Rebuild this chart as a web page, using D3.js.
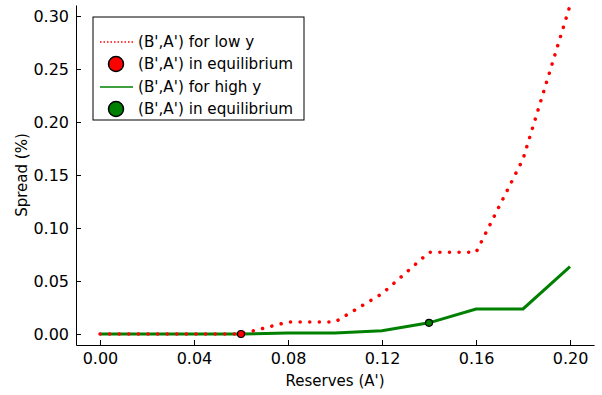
<!DOCTYPE html>
<html lang="en">
<head>
<meta charset="UTF-8">
<script src="https://cdn.jsdelivr.net/npm/d3@7"></script>
<style>
    body { margin: 0; background: #fff; }
    text { font-family: "DejaVu Sans", sans-serif; }
</style>
</head>
<body>
<svg width="602" height="395"></svg>
<script>
    var reserves = [0.00, 0.02, 0.04, 0.06, 0.08, 0.10, 0.12, 0.14, 0.16, 0.18, 0.20];
    var spreadLow = [0, 0, 0, 0, 0.0113, 0.0113, 0.038, 0.077, 0.077, 0.165, 0.31];
    var spreadHigh = [0, 0, 0, 0, 0.001, 0.001, 0.003, 0.0105, 0.0236, 0.0236, 0.0635];
    var eqLow = [0.06, 0];
    var eqHigh = [0.14, 0.0105];
    var xTicks = [0.00, 0.04, 0.08, 0.12, 0.16, 0.20];
    var yTicks = [0.00, 0.05, 0.10, 0.15, 0.20, 0.25, 0.30];
    var legendLabels = ["(B',A') for low y", "(B',A') in equilibrium", "(B',A') for high y", "(B',A') in equilibrium"];

    var svg = d3.select("svg");
    var x = d3.scaleLinear().domain([-0.0102, 0.2102]).range([76, 594]);
    var y = d3.scaleLinear().domain([-0.0104, 0.3104]).range([345, 5]);

    // axes (ticks point inward)
    svg.append("g")
        .attr("transform", "translate(0,345)")
        .call(d3.axisBottom(x).tickValues(xTicks).tickFormat(d3.format(".2f")).tickSizeInner(-5).tickSizeOuter(0).tickPadding(8))
        .call(function (g) {
            g.select(".domain").attr("stroke", "#000");
            g.selectAll("text").attr("font-size", 16).attr("fill", "#000");
        });
    svg.append("g")
        .attr("transform", "translate(76,0)")
        .call(d3.axisLeft(y).tickValues(yTicks).tickFormat(d3.format(".2f")).tickSizeInner(-5).tickSizeOuter(0).tickPadding(7))
        .call(function (g) {
            g.select(".domain").attr("stroke", "#000");
            g.selectAll("text").attr("font-size", 16).attr("fill", "#000");
        });

    svg.append("text")
        .attr("x", 335).attr("y", 386)
        .attr("text-anchor", "middle").attr("font-size", 15)
        .text("Reserves (A')");
    svg.append("text")
        .attr("transform", "translate(27,175) rotate(-90)")
        .attr("text-anchor", "middle").attr("font-size", 15)
        .text("Spread (%)");

    var line = d3.line()
        .x(function (d, i) { return x(reserves[i]); })
        .y(function (d) { return y(d); });

    svg.append("path")
        .datum(spreadHigh)
        .attr("d", line)
        .attr("fill", "none")
        .attr("stroke", "#008000")
        .attr("stroke-width", 3);

    svg.append("path")
        .datum(spreadLow)
        .attr("d", line)
        .attr("fill", "none")
        .attr("stroke", "#ff0000")
        .attr("stroke-width", 3.5)
        .attr("stroke-linecap", "round")
        .attr("stroke-dasharray", "0.1 9.5");

    svg.append("circle")
        .attr("cx", x(eqLow[0])).attr("cy", y(eqLow[1])).attr("r", 3.5)
        .attr("fill", "#ff0000").attr("stroke", "#000").attr("stroke-width", 1.2);
    svg.append("circle")
        .attr("cx", x(eqHigh[0])).attr("cy", y(eqHigh[1])).attr("r", 3.5)
        .attr("fill", "#008000").attr("stroke", "#000").attr("stroke-width", 1.2);

    // legend
    var lg = svg.append("g").attr("transform", "translate(93,17)");
    lg.append("rect")
        .attr("width", 211).attr("height", 103)
        .attr("fill", "#fff").attr("stroke", "#000").attr("stroke-width", 1);
    var rowY = [25, 47, 70, 92];
    lg.append("line").attr("x1", 7).attr("x2", 40).attr("y1", rowY[0]).attr("y2", rowY[0])
        .attr("stroke", "#ff0000").attr("stroke-width", 1.5).attr("stroke-dasharray", "1.5 2");
    lg.append("circle").attr("cx", 23).attr("cy", rowY[1]).attr("r", 7.5)
        .attr("fill", "#ff0000").attr("stroke", "#000").attr("stroke-width", 1.5);
    lg.append("line").attr("x1", 7).attr("x2", 40).attr("y1", rowY[2]).attr("y2", rowY[2])
        .attr("stroke", "#008000").attr("stroke-width", 1.5);
    lg.append("circle").attr("cx", 23).attr("cy", rowY[3]).attr("r", 7.5)
        .attr("fill", "#008000").attr("stroke", "#000").attr("stroke-width", 1.5);
    lg.selectAll("text.lbl")
        .data(legendLabels)
        .enter()
        .append("text")
        .attr("class", "lbl")
        .attr("x", 45)
        .attr("y", function (d, i) { return rowY[i]; })
        .attr("dy", "0.35em")
        .attr("font-size", 15.2)
        .text(function (d) { return d; });
</script>
</body>
</html>
